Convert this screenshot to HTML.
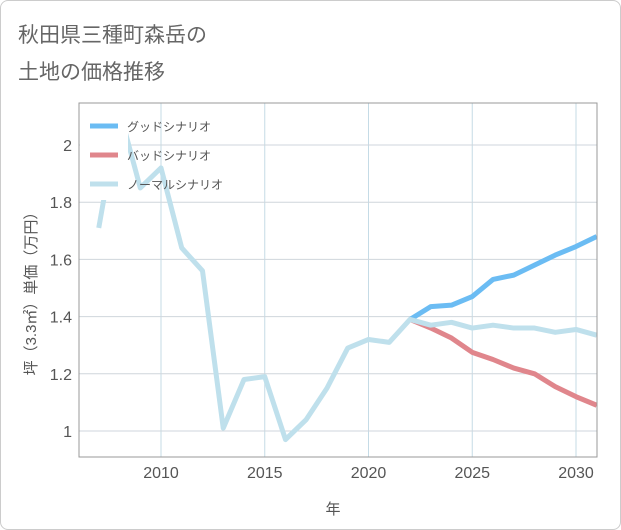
<!DOCTYPE html>
<html><head><meta charset="utf-8"><style>
body{margin:0;background:#fff;}
#card{position:absolute;left:0;top:0;width:619px;height:528px;border:1px solid #ccc;border-radius:8px;background:#fff;}
text{font-family:"Liberation Sans","Noto Sans CJK JP",sans-serif;}
</style></head><body>
<div id="card"></div>
<svg id="svg" width="621" height="530" style="position:absolute;left:0;top:0">
<text x="18" y="42" font-size="21" fill="#666">秋田県三種町森岳の</text>
<text x="18" y="79" font-size="21" fill="#666">土地の価格推移</text>
<text x="333" y="514" font-size="15" fill="#555" text-anchor="middle">年</text>
<text transform="translate(36,290) rotate(-90)" font-size="15" fill="#555" text-anchor="middle">坪（3.3㎡）単価（万円）</text>
<g id="grid"></g><g id="lines"></g><g id="legend"></g>
<rect x="79" y="103" width="518" height="354" fill="none" stroke="#999" stroke-width="1"/>
</svg>
<script>
const normalYears=[2007,2008,2009,2010,2011,2012,2013,2014,2015,2016,2017,2018,2019,2020,2021,2022,2023,2024,2025,2026,2027,2028,2029,2030,2031];
const normalValues=[1.71,2.12,1.85,1.92,1.64,1.56,1.01,1.18,1.19,0.97,1.04,1.15,1.29,1.32,1.31,1.39,1.37,1.38,1.36,1.37,1.36,1.36,1.345,1.355,1.335];
const forecastYears=[2022,2023,2024,2025,2026,2027,2028,2029,2030,2031];
const goodValues=[1.39,1.435,1.44,1.47,1.53,1.545,1.58,1.615,1.645,1.68];
const badValues=[1.39,1.36,1.325,1.275,1.25,1.22,1.2,1.155,1.12,1.09];
const xTicks=[2010,2015,2020,2025,2030];
const yTicks=[1,1.2,1.4,1.6,1.8,2];
const NS="http://www.w3.org/2000/svg";
const X=y=>161+(y-2010)*20.75;
const Y=v=>431-(v-1)*286;
function mk(t,a,p){const e=document.createElementNS(NS,t);for(const k in a)e.setAttribute(k,a[k]);p.appendChild(e);return e;}
const grid=document.getElementById('grid');
xTicks.forEach(t=>{
 const l=mk('line',{x1:X(t),x2:X(t),y1:103,y2:457,stroke:'#c5dbe6','stroke-width':1},grid);
 
 
 const tx=mk('text',{x:X(t),y:478,'font-size':16,fill:'#555','text-anchor':'middle'},grid);
 tx.textContent=t;
 
 
});
yTicks.forEach(t=>{
 const l=mk('line',{x1:79,x2:597,y1:Y(t),y2:Y(t),stroke:'#cfd6dc','stroke-width':1},grid);
 
 
 const tx=mk('text',{x:72,y:Y(t)+6,'font-size':16,fill:'#555','text-anchor':'end'},grid);
 tx.textContent=t;
 
 
});
const lines=document.getElementById('lines');
const clip=mk('clipPath',{id:'pc'},mk('defs',{},lines));mk('rect',{x:79,y:103,width:518,height:354},clip);
function series(xs,vs,color,name){
 const p=mk('polyline',{points:xs.map((x,i)=>X(x)+','+Y(vs[i])).join(' '),fill:'none',stroke:color,'stroke-width':5,'stroke-linejoin':'round','clip-path':'url(#pc)'},lines);
 
 
}
series(forecastYears,goodValues,'#6bbcf3','good-scenario-line');
series(forecastYears,badValues,'#e0868c','bad-scenario-line');
series(normalYears,normalValues,'#bfe0ec','normal-scenario-line');
const lg=document.getElementById('legend');
const bg=mk('rect',{x:80,y:104,width:48,height:96,fill:'#fff'},lg);


[['グッドシナリオ','#6bbcf3',126],['バッドシナリオ','#e0868c',155],['ノーマルシナリオ','#bfe0ec',184]].forEach((d,i)=>{
 const g=mk('g',{},lg);
 
 
 mk('line',{x1:90,x2:118,y1:d[2],y2:d[2],stroke:d[1],'stroke-width':5},g);
 const t=mk('text',{x:127,y:d[2]+5,'font-size':12,fill:'#555'},g);
 t.textContent=d[0];
});
</script>
</body></html>
